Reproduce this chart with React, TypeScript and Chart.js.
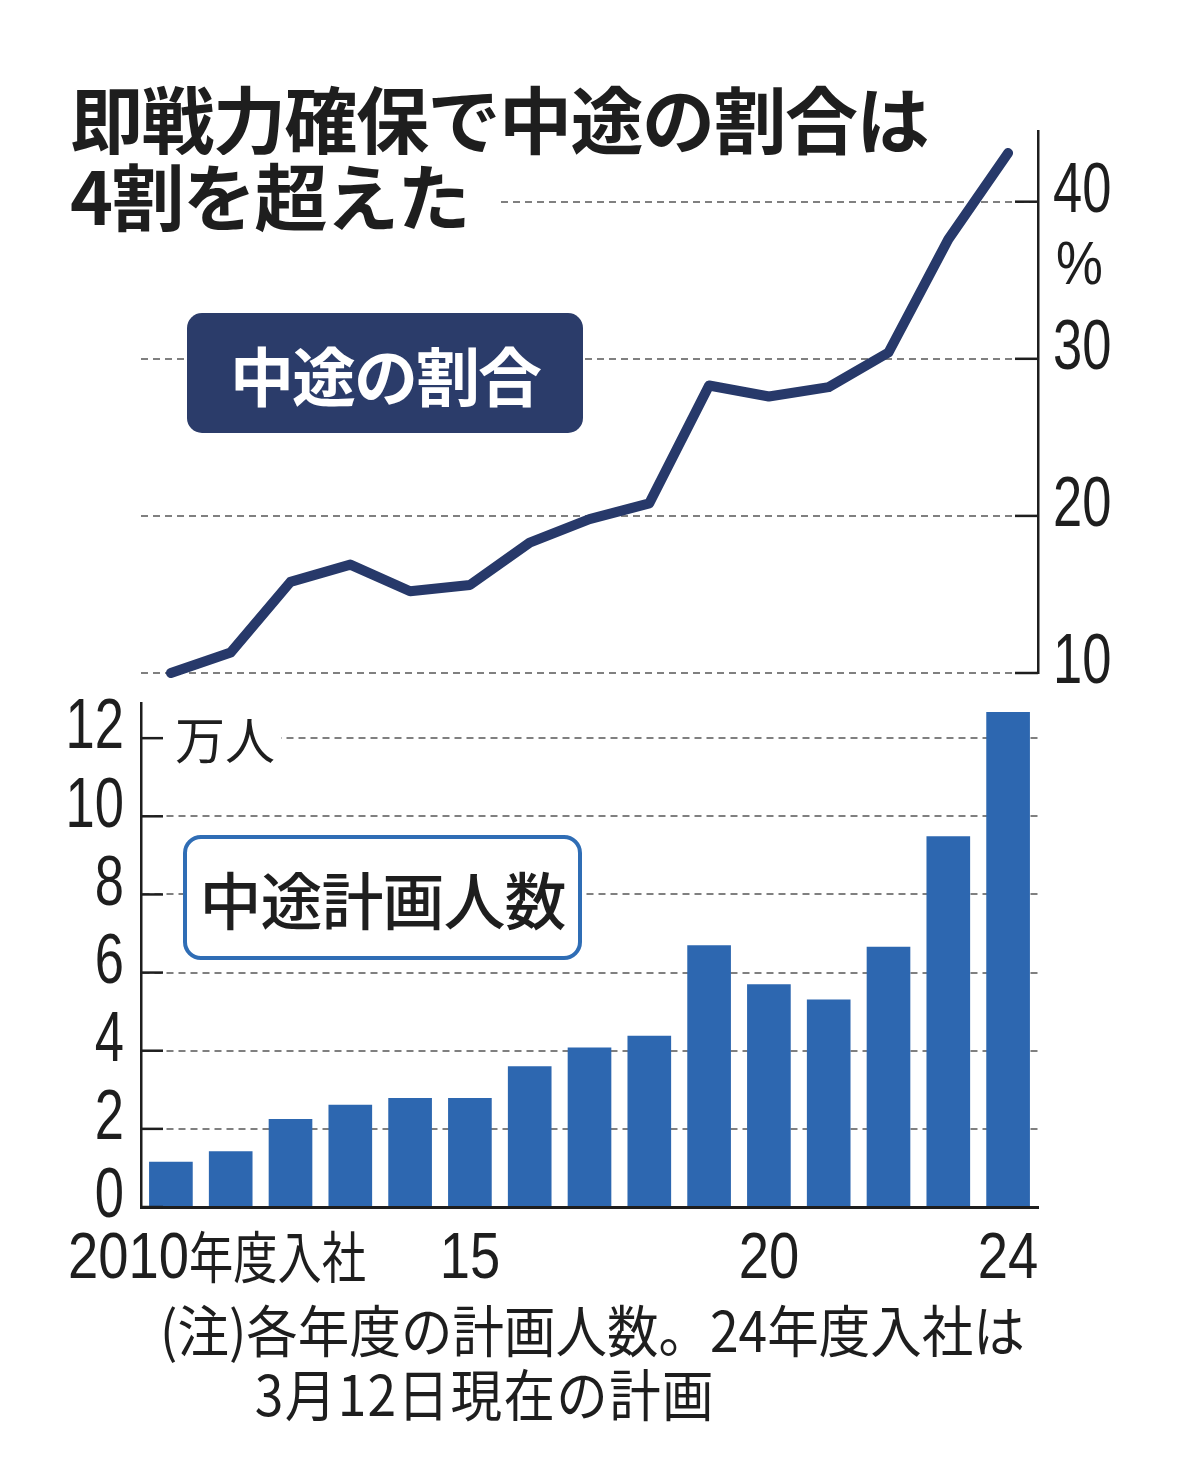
import React, { useEffect, useRef } from "react";
import { Chart, registerables } from "chart.js";

Chart.register(...registerables);

const years = [
  "2010", "2011", "2012", "2013", "2014", "2015", "2016", "2017",
  "2018", "2019", "2020", "2021", "2022", "2023", "2024",
];
// 中途の割合 (%)
const midCareerShare = [
  10.0, 11.3, 15.8, 16.9, 15.2, 15.6, 18.3, 19.8, 20.8, 28.3, 27.6, 28.2, 30.4, 37.6, 43.1,
];
// 中途計画人数 (万人)
const plannedHires = [
  1.16, 1.43, 2.25, 2.62, 2.79, 2.79, 3.6, 4.08, 4.38, 6.7, 5.7, 5.31, 6.66, 9.49, 12.67,
];
const shareTicks = [10, 20, 30, 40];
const hireTicks = [0, 2, 4, 6, 8, 10, 12];
const yearTickLabels: Record<number, string> = { 5: "15", 10: "20", 14: "24" };
const firstYearLabel = ["2010", "年度入社"];

const NUM_FONT = "'Liberation Sans', Arial, sans-serif";
const JP_FONT = "'Noto Sans CJK JP', 'Noto Sans', sans-serif";
const GRID = "#808080";
const INK = "#1e1e1e";

// short solid ticks on the inner side of the y axis
const innerTicks = {
  id: "innerTicks",
  afterDraw(chart: any, _args: any, opts: any) {
    const scale = chart.scales.y;
    const ctx = chart.ctx;
    ctx.save();
    ctx.strokeStyle = INK;
    ctx.lineWidth = 2.5;
    scale.ticks.forEach((t: any) => {
      const y = scale.getPixelForValue(t.value);
      const x0 = opts.side === "right" ? scale.left : scale.right;
      const x1 = opts.side === "right" ? x0 - 23 : x0 + 22;
      ctx.beginPath();
      ctx.moveTo(x0, y);
      ctx.lineTo(x1, y);
      ctx.stroke();
    });
    ctx.restore();
  },
};

// condensed tick labels (no narrow face is installed, so squeeze the text)
function squeezed(ctx: any, text: string, x: number, y: number, sx: number, align: string, baseline: string) {
  ctx.save();
  ctx.translate(x, y);
  ctx.scale(sx, 1);
  ctx.textAlign = align;
  ctx.textBaseline = baseline;
  ctx.fillText(text, 0, 0);
  ctx.restore();
}

const condensedLabels = {
  id: "condensedLabels",
  afterDraw(chart: any, _args: any, opts: any) {
    const ctx = chart.ctx;
    ctx.save();
    ctx.fillStyle = INK;
    const y = chart.scales.y;
    ctx.font = `70px ${NUM_FONT}`;
    y.ticks.forEach((t: any) => {
      const py = y.getPixelForValue(t.value) - 9;
      if (opts.side === "right") squeezed(ctx, t.label, y.left + 15, py, 0.75, "left", "middle");
      else squeezed(ctx, t.label, y.right - 17, py, 0.75, "right", "middle");
    });
    if (opts.xLabels) {
      const x = chart.scales.x;
      const base = chart.chartArea.bottom + 71;
      ctx.font = `64px ${NUM_FONT}`;
      x.ticks.forEach((t: any, i: number) => {
        if (t.label) squeezed(ctx, t.label, x.getPixelForValue(i), base, 0.85, "center", "alphabetic");
      });
      const left = x.getPixelForValue(0) - 103;
      const w = ctx.measureText(firstYearLabel[0]).width * 0.85;
      squeezed(ctx, firstYearLabel[0], left, base, 0.85, "left", "alphabetic");
      ctx.font = `56px ${JP_FONT}`;
      squeezed(ctx, firstYearLabel[1], left + w, base, 0.79, "left", "alphabetic");
    }
    ctx.restore();
  },
};

function ShareChart() {
  const ref = useRef<HTMLCanvasElement>(null);
  useEffect(() => {
    if (!ref.current) return;
    const chart = new Chart(ref.current, {
      type: "line",
      data: {
        labels: years,
        datasets: [
          {
            data: midCareerShare,
            borderColor: "#27396a",
            borderWidth: 10,
            borderCapStyle: "round",
            borderJoinStyle: "round",
            pointRadius: 0,
            tension: 0,
            clip: false,
          },
        ],
      },
      options: {
        responsive: false,
        animation: false,
        layout: { padding: { top: 131, left: 141, right: 0, bottom: 87 } },
        plugins: {
          legend: { display: false },
          tooltip: { enabled: false },
          innerTicks: { side: "right" },
          condensedLabels: { side: "right" },
        } as any,
        scales: {
          x: { display: false, offset: true },
          y: {
            position: "right",
            min: 10,
            max: 44.5,
            afterFit: (s: any) => { s.width = 141; },
            afterBuildTicks: (s: any) => {
              s.ticks = shareTicks.map((v) => ({ value: v }));
            },
            grid: { color: GRID, lineWidth: 2, drawTicks: false },
            border: { display: true, color: INK, width: 2.5, dash: [7, 5] },
            ticks: { display: false },
          },
        },
      },
      plugins: [innerTicks, condensedLabels],
    });
    return () => chart.destroy();
  }, []);
  return <canvas ref={ref} width={1179} height={760} style={{ position: "absolute", left: 0, top: 0 }} />;
}

function HiresChart() {
  const ref = useRef<HTMLCanvasElement>(null);
  useEffect(() => {
    if (!ref.current) return;
    const chart = new Chart(ref.current, {
      type: "bar",
      data: {
        labels: years,
        datasets: [
          {
            data: plannedHires,
            backgroundColor: "#2d67b0",
            barPercentage: 0.73,
            categoryPercentage: 1,
          },
        ],
      },
      options: {
        responsive: false,
        animation: false,
        layout: { padding: { top: 63, left: 0, right: 141, bottom: 0 } },
        plugins: {
          legend: { display: false },
          tooltip: { enabled: false },
          innerTicks: { side: "left" },
          condensedLabels: { side: "left", xLabels: true },
        } as any,
        scales: {
          x: {
            afterFit: (s: any) => { s.height = 93; },
            grid: { display: false },
            border: { display: true, color: INK, width: 3 },
            ticks: {
              display: false,
              autoSkip: false,
              callback: (_v: any, i: number) => yearTickLabels[i] ?? "",
            },
          },
          y: {
            min: 0,
            max: 12.9,
            afterFit: (s: any) => { s.width = 141; },
            afterBuildTicks: (s: any) => {
              s.ticks = hireTicks.map((v) => ({ value: v }));
            },
            grid: { color: GRID, lineWidth: 2, drawTicks: false },
            border: { display: true, color: INK, width: 2.5, dash: [7, 5] },
            ticks: { display: false },
          },
        },
      },
      plugins: [innerTicks, condensedLabels],
    });
    return () => chart.destroy();
  }, []);
  return <canvas ref={ref} width={1179} height={660} style={{ position: "absolute", left: 0, top: 640 }} />;
}

export default function App() {
  return (
    <div
      style={{
        position: "absolute",
        left: 0,
        top: 0,
        width: 1179,
        height: 1480,
        background: "#fff",
        fontFamily: JP_FONT,
        color: INK,
        overflow: "hidden",
      }}
    >
      <ShareChart />
      <HiresChart />

      <div style={{ position: "absolute", left: 70, top: 78, fontSize: 73, fontWeight: 700, lineHeight: "77px", letterSpacing: -1.5, whiteSpace: "nowrap" }}>
        <div>即戦力確保で中途の割合は</div>
        <div style={{ display: "inline-block", background: "#fff", paddingRight: 28 }}>4割を超えた</div>
      </div>

      <div style={{ position: "absolute", left: 1056, top: 232, fontFamily: NUM_FONT, fontSize: 62, lineHeight: 1, transform: "scaleX(0.85)", transformOrigin: "left top" }}>%</div>

      <div
        style={{
          position: "absolute", left: 187, top: 313, width: 396, height: 120, borderRadius: 15,
          background: "#2b3c6a", color: "#fff", fontSize: 64, fontWeight: 700, letterSpacing: -2,
          display: "flex", alignItems: "center", justifyContent: "center",
        }}
      >
        中途の割合
      </div>

      <div style={{ position: "absolute", left: 165, top: 704, padding: "0 6px 0 10px", background: "#fff", fontSize: 50, lineHeight: "66px" }}>万人</div>

      <div
        style={{
          position: "absolute", left: 183, top: 835, width: 399, height: 125, boxSizing: "border-box",
          border: "4px solid #2f6db5", borderRadius: 18, background: "#fff", fontSize: 62, fontWeight: 500,
          letterSpacing: -1, display: "flex", alignItems: "center", justifyContent: "center",
        }}
      >
        中途計画人数
      </div>

      <div style={{ position: "absolute", left: 160, top: 1296, fontSize: 56, lineHeight: "64px", transform: "scaleX(0.92)", transformOrigin: "left top", whiteSpace: "nowrap" }}>
        <div>(注)各年度の計画人数。24年度入社は</div>
        <div style={{ paddingLeft: 103, letterSpacing: 1.5 }}>3月12日現在の計画</div>
      </div>
    </div>
  );
}
